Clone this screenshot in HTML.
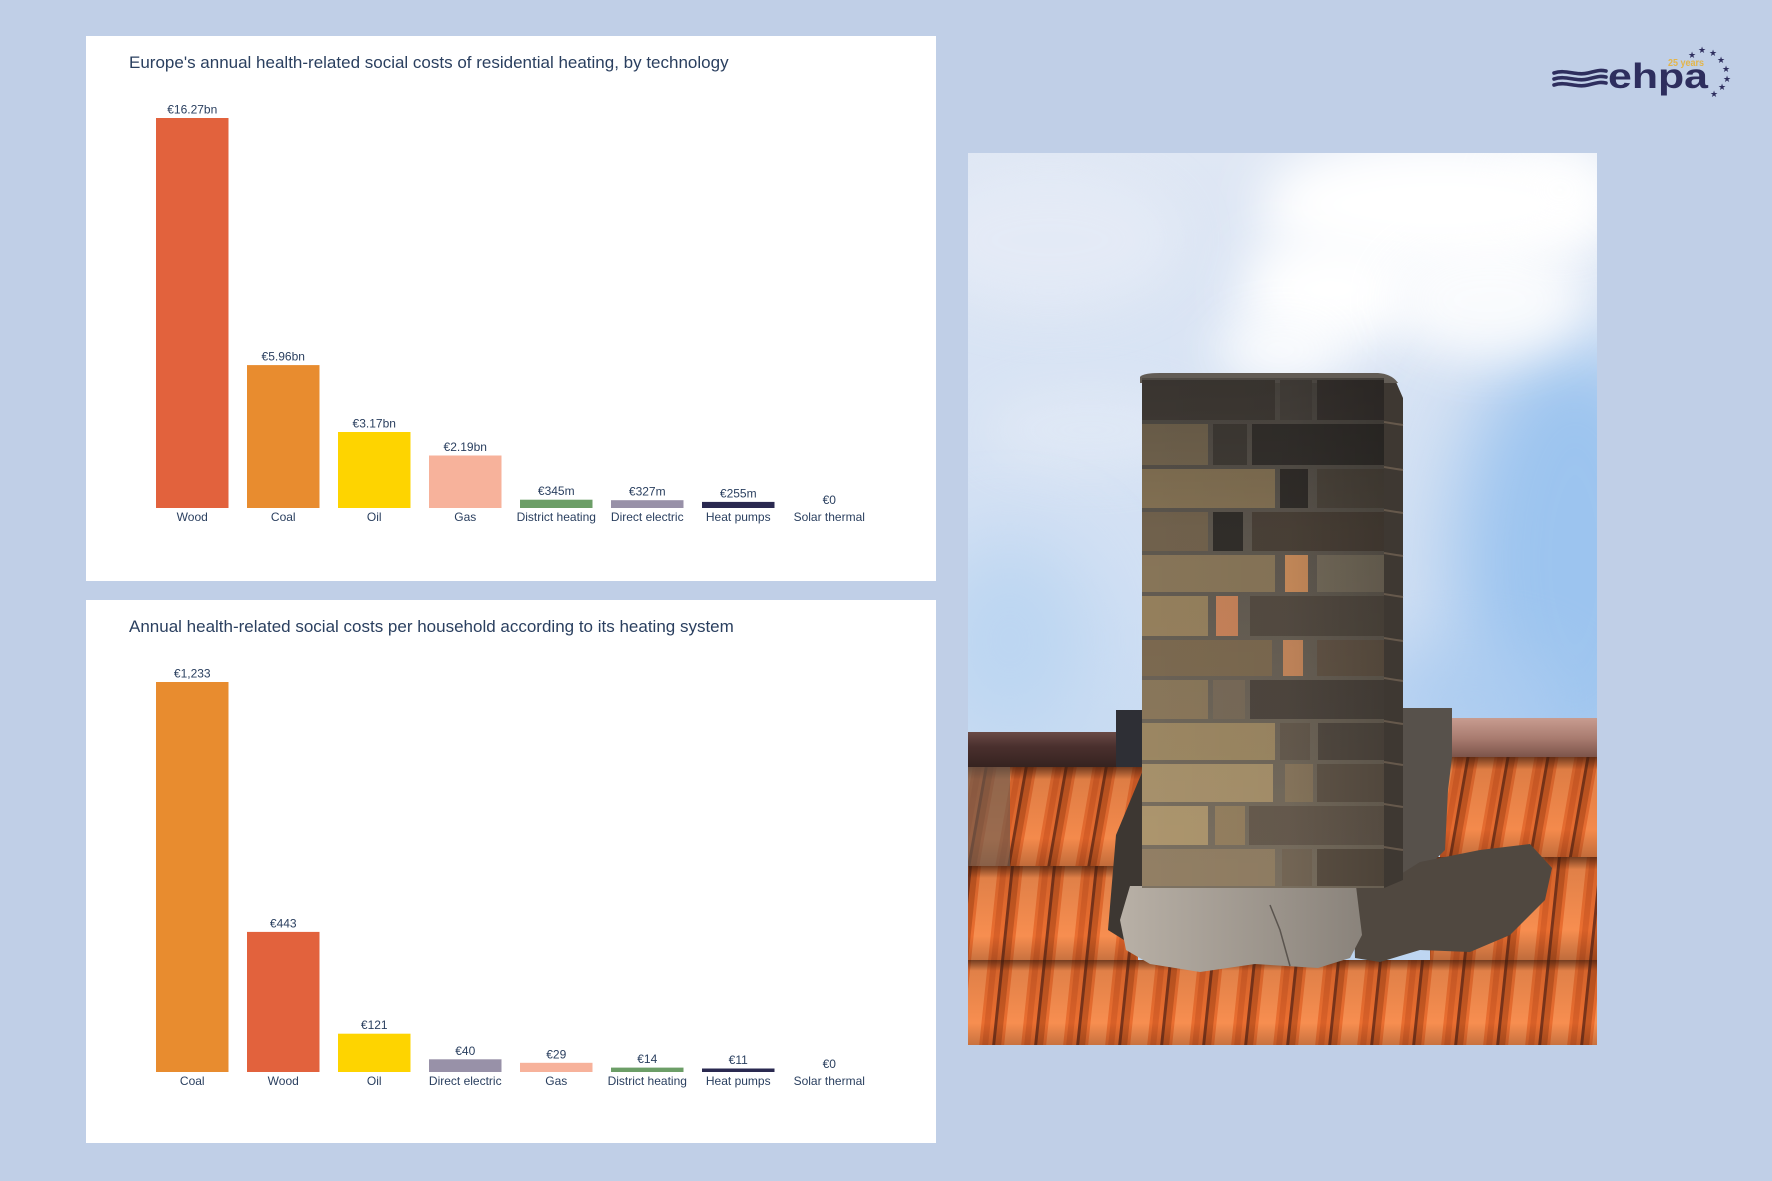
<!DOCTYPE html>
<html>
<head>
<meta charset="utf-8">
<style>
  html,body{margin:0;padding:0;}
  body{width:1772px;height:1181px;background:#c0cfe7;overflow:hidden;position:relative;}
  svg{position:absolute;left:0;top:0;}
  .t{font-family:"Liberation Sans",Arial,sans-serif;fill:#2a3f5f;}
</style>
</head>
<body>
<svg width="1772" height="1181" viewBox="0 0 1772 1181" xmlns="http://www.w3.org/2000/svg">
  <defs>
    <clipPath id="photo"><rect x="968" y="153" width="629" height="892"/></clipPath>
    <linearGradient id="sky" x1="0" y1="0" x2="0" y2="1">
      <stop offset="0" stop-color="#dfe7f4"/>
      <stop offset="0.5" stop-color="#d0dff3"/>
      <stop offset="1" stop-color="#b9d4f1"/>
    </linearGradient>
    <filter id="blur40" x="-60%" y="-60%" width="220%" height="220%"><feGaussianBlur stdDeviation="40"/></filter>
    <filter id="blur25" x="-60%" y="-60%" width="220%" height="220%"><feGaussianBlur stdDeviation="25"/></filter>
    <pattern id="tile" width="40" height="120" patternUnits="userSpaceOnUse" patternTransform="skewX(-10)">
      <rect width="40" height="120" fill="#e66c30"/>
      <rect x="0" width="3" height="120" fill="#7a3418"/>
      <rect x="3" width="6" height="120" fill="#c45722"/>
      <rect x="12" width="16" height="120" fill="#f48a4c"/>
      <rect x="31" width="6" height="120" fill="#d65e27"/>
    </pattern>
    <pattern id="tile2" width="42" height="120" patternUnits="userSpaceOnUse" patternTransform="translate(10 0) skewX(-6)">
      <rect width="42" height="120" fill="#ea6e30"/>
      <rect x="0" width="3" height="120" fill="#7a341a"/>
      <rect x="3" width="6" height="120" fill="#c65822"/>
      <rect x="12" width="17" height="120" fill="#f78e50"/>
      <rect x="32" width="6" height="120" fill="#d86028"/>
    </pattern>
    <linearGradient id="rowShade" x1="0" y1="0" x2="0" y2="1">
      <stop offset="0" stop-color="#3a1a0c" stop-opacity="0.7"/>
      <stop offset="0.12" stop-color="#3a1a0c" stop-opacity="0.12"/>
      <stop offset="0.7" stop-color="#3a1a0c" stop-opacity="0"/>
      <stop offset="1" stop-color="#3a1a0c" stop-opacity="0.3"/>
    </linearGradient>
    <linearGradient id="mortar" x1="0" y1="0" x2="0" y2="1">
      <stop offset="0" stop-color="#55504a"/>
      <stop offset="1" stop-color="#7d7262"/>
    </linearGradient>
    <linearGradient id="faceH" x1="0" y1="0" x2="1" y2="0">
      <stop offset="0" stop-color="#000" stop-opacity="0"/>
      <stop offset="0.6" stop-color="#000" stop-opacity="0.03"/>
      <stop offset="1" stop-color="#000" stop-opacity="0.18"/>
    </linearGradient>
    <linearGradient id="faceV" x1="0" y1="0" x2="0" y2="1">
      <stop offset="0" stop-color="#000" stop-opacity="0.2"/>
      <stop offset="0.3" stop-color="#000" stop-opacity="0.05"/>
      <stop offset="1" stop-color="#000" stop-opacity="0"/>
    </linearGradient>
    <linearGradient id="concrete" x1="0" y1="0" x2="1" y2="0">
      <stop offset="0" stop-color="#b8b0a6"/>
      <stop offset="1" stop-color="#8a837b"/>
    </linearGradient>
    <linearGradient id="gutL" x1="0" y1="0" x2="0" y2="1">
      <stop offset="0" stop-color="#6a4a46"/>
      <stop offset="0.4" stop-color="#4a302e"/>
      <stop offset="1" stop-color="#35221f"/>
    </linearGradient>
    <linearGradient id="gutR" x1="0" y1="0" x2="0" y2="1">
      <stop offset="0" stop-color="#c89c90"/>
      <stop offset="0.5" stop-color="#a97c70"/>
      <stop offset="1" stop-color="#7a5248"/>
    </linearGradient>
  </defs>

  <!-- ============ PANEL 1 ============ -->
  <rect x="86" y="36" width="850" height="545" fill="#ffffff"/>
  <text class="t" x="129" y="68" font-size="17">Europe's annual health-related social costs of residential heating, by technology</text>

  <rect x="156" y="118" width="72.5" height="390" fill="#e2623d"/>
  <rect x="247" y="365.1" width="72.5" height="142.9" fill="#e88c2f"/>
  <rect x="338" y="432" width="72.5" height="76" fill="#fed400"/>
  <rect x="429" y="455.5" width="72.5" height="52.5" fill="#f7b29b"/>
  <rect x="520" y="499.7" width="72.5" height="8.3" fill="#6c9e67"/>
  <rect x="611" y="500.2" width="72.5" height="7.8" fill="#9891a8"/>
  <rect x="702" y="501.9" width="72.5" height="6.1" fill="#2a2950"/>

  <g class="t" font-size="12" text-anchor="middle">
    <text x="192.25" y="113.5">€16.27bn</text>
    <text x="283.25" y="360.6">€5.96bn</text>
    <text x="374.25" y="427.5">€3.17bn</text>
    <text x="465.25" y="451">€2.19bn</text>
    <text x="556.25" y="495.2">€345m</text>
    <text x="647.25" y="495.7">€327m</text>
    <text x="738.25" y="497.4">€255m</text>
    <text x="829.25" y="504">€0</text>

    <text x="192.25" y="521">Wood</text>
    <text x="283.25" y="521">Coal</text>
    <text x="374.25" y="521">Oil</text>
    <text x="465.25" y="521">Gas</text>
    <text x="556.25" y="521">District heating</text>
    <text x="647.25" y="521">Direct electric</text>
    <text x="738.25" y="521">Heat pumps</text>
    <text x="829.25" y="521">Solar thermal</text>
  </g>

  <!-- ============ PANEL 2 ============ -->
  <rect x="86" y="600" width="850" height="543" fill="#ffffff"/>
  <text class="t" x="129" y="632" font-size="17">Annual health-related social costs per household according to its heating system</text>

  <rect x="156" y="682" width="72.5" height="390" fill="#e88c2f"/>
  <rect x="247" y="931.9" width="72.5" height="140.1" fill="#e2623d"/>
  <rect x="338" y="1033.7" width="72.5" height="38.3" fill="#fed400"/>
  <rect x="429" y="1059.3" width="72.5" height="12.7" fill="#9891a8"/>
  <rect x="520" y="1062.8" width="72.5" height="9.2" fill="#f7b29b"/>
  <rect x="611" y="1067.6" width="72.5" height="4.4" fill="#6c9e67"/>
  <rect x="702" y="1068.5" width="72.5" height="3.5" fill="#2a2950"/>

  <g class="t" font-size="12" text-anchor="middle">
    <text x="192.25" y="677.5">€1,233</text>
    <text x="283.25" y="927.4">€443</text>
    <text x="374.25" y="1029.2">€121</text>
    <text x="465.25" y="1054.8">€40</text>
    <text x="556.25" y="1058.3">€29</text>
    <text x="647.25" y="1063.1">€14</text>
    <text x="738.25" y="1064">€11</text>
    <text x="829.25" y="1068">€0</text>

    <text x="192.25" y="1085">Coal</text>
    <text x="283.25" y="1085">Wood</text>
    <text x="374.25" y="1085">Oil</text>
    <text x="465.25" y="1085">Direct electric</text>
    <text x="556.25" y="1085">Gas</text>
    <text x="647.25" y="1085">District heating</text>
    <text x="738.25" y="1085">Heat pumps</text>
    <text x="829.25" y="1085">Solar thermal</text>
  </g>

  <!-- ============ LOGO ============ -->
  <g fill="none" stroke="#2e2e5e" stroke-width="3.6" stroke-linecap="round">
    <path d="M1554,73 C1566,69 1576,76 1588,73 S1601,70 1606,71"/>
    <path d="M1554,79 C1566,75 1576,82 1588,79 S1601,76 1606,77"/>
    <path d="M1554,85 C1566,81 1576,88 1588,85 S1601,82 1606,83"/>
  </g>
  <text x="1608" y="88" font-family="'Liberation Sans',Arial,sans-serif" font-weight="bold" font-size="35" fill="#2e2e5e" textLength="100" lengthAdjust="spacingAndGlyphs">ehpa</text>
  <text x="1668" y="66" font-family="'Liberation Sans',Arial,sans-serif" font-weight="bold" font-size="10" fill="#e3b54a" textLength="36" lengthAdjust="spacingAndGlyphs">25 years</text>
  <g font-family="'DejaVu Sans',sans-serif" font-size="9" fill="#2e2e5e" text-anchor="middle">
    <text x="1692" y="58">★</text>
    <text x="1702" y="53">★</text>
    <text x="1713" y="56">★</text>
    <text x="1721" y="63">★</text>
    <text x="1726" y="72">★</text>
    <text x="1727" y="82">★</text>
    <text x="1722" y="90">★</text>
    <text x="1714" y="97">★</text>
  </g>

  <!-- ============ PHOTO ============ -->
  <g clip-path="url(#photo)">
    <rect x="968" y="153" width="629" height="892" fill="url(#sky)"/>
    <!-- blue patches -->
    <ellipse cx="1575" cy="560" rx="120" ry="220" fill="#9cc4ef" filter="url(#blur40)"/>
    <ellipse cx="1010" cy="640" rx="80" ry="100" fill="#bcd6f2" filter="url(#blur40)"/>
    <ellipse cx="1470" cy="700" rx="110" ry="50" fill="#aacbf0" filter="url(#blur40)"/>
    <!-- faint clouds left -->
    <ellipse cx="1050" cy="240" rx="130" ry="70" fill="#e9eef8" opacity="0.6" filter="url(#blur25)"/>
    <ellipse cx="1090" cy="430" rx="110" ry="40" fill="#eef2f9" opacity="0.4" filter="url(#blur25)"/>
    <!-- smoke -->
    <ellipse cx="1440" cy="205" rx="180" ry="70" fill="#ffffff" filter="url(#blur25)"/>
    <ellipse cx="1330" cy="290" rx="90" ry="60" fill="#ffffff" filter="url(#blur25)"/>
    <ellipse cx="1490" cy="300" rx="100" ry="60" fill="#ffffff" opacity="0.85" filter="url(#blur25)"/>
    <ellipse cx="1280" cy="350" rx="65" ry="32" fill="#ffffff" opacity="0.9" filter="url(#blur25)"/>
    <ellipse cx="1560" cy="190" rx="60" ry="50" fill="#ffffff" opacity="0.7" filter="url(#blur25)"/>

    <!-- gutters & flashing -->
    <rect x="968" y="732" width="150" height="36" fill="url(#gutL)"/>
    <rect x="1450" y="718" width="150" height="40" fill="url(#gutR)"/>
    <rect x="1116" y="710" width="27" height="62" fill="#2e2f35"/>
    <rect x="1402" y="708" width="50" height="50" fill="#8a6058"/>

    <!-- tile rows -->
    <rect x="968" y="767" width="180" height="102" fill="url(#tile)"/>
    <rect x="968" y="767" width="180" height="102" fill="url(#rowShade)"/>
    <rect x="968" y="767" width="42" height="130" fill="#6a5a50" opacity="0.65"/>
    <rect x="1440" y="757" width="160" height="104" fill="url(#tile)"/>
    <rect x="1440" y="757" width="160" height="104" fill="url(#rowShade)"/>
    <rect x="968" y="866" width="170" height="100" fill="url(#tile2)"/>
    <rect x="968" y="866" width="170" height="100" fill="url(#rowShade)"/>
    <rect x="1430" y="857" width="170" height="104" fill="url(#tile2)"/>
    <rect x="1430" y="857" width="170" height="104" fill="url(#rowShade)"/>
    <rect x="968" y="960" width="629" height="90" fill="url(#tile2)"/>
    <rect x="968" y="960" width="629" height="90" fill="url(#rowShade)"/>

    <!-- dark concrete right of chimney -->
    <polygon points="1388,708 1452,708 1452,757 1448,790 1445,850 1415,880 1400,900 1384,890" fill="#57514b"/>
    <polygon points="1353,888 1385,884 1420,862 1480,850 1530,844 1552,868 1545,900 1510,935 1470,952 1420,950 1380,962 1355,958" fill="#504840"/>
    <!-- left dark sliver -->
    <polygon points="1116,835 1143,770 1143,890 1132,945 1108,930" fill="#3d3732"/>
    <!-- light concrete below chimney -->
    <polygon points="1130,886 1356,886 1362,935 1350,958 1318,968 1255,964 1200,972 1150,964 1126,950 1120,920" fill="url(#concrete)"/>
    <path d="M1270,905 L1280,930 L1290,966" stroke="#5a544e" stroke-width="1.5" fill="none"/>

    <!-- chimney mortar/front face -->
    <rect x="1142" y="378" width="242" height="510" fill="url(#mortar)"/>
    <!-- side face -->
    <polygon points="1384,380 1396,382 1403,398 1403,880 1384,888" fill="#3e3832"/>
    <g stroke="#66594c" stroke-width="2">
      <line x1="1384" y1="422" x2="1403" y2="425"/>
      <line x1="1384" y1="467" x2="1403" y2="470"/>
      <line x1="1384" y1="510" x2="1403" y2="513"/>
      <line x1="1384" y1="553" x2="1403" y2="556"/>
      <line x1="1384" y1="594" x2="1403" y2="597"/>
      <line x1="1384" y1="638" x2="1403" y2="641"/>
      <line x1="1384" y1="678" x2="1403" y2="681"/>
      <line x1="1384" y1="721" x2="1403" y2="724"/>
      <line x1="1384" y1="762" x2="1403" y2="765"/>
      <line x1="1384" y1="804" x2="1403" y2="807"/>
      <line x1="1384" y1="847" x2="1403" y2="850"/>
    </g>
    <!-- cap -->
    <path d="M1140,383 L1140,377 Q1143,373 1160,373 L1378,373 Q1392,374 1398,383 Z" fill="#625c55"/>

    <!-- bricks -->
    <g>
      <!-- c1 380-420 -->
      <rect x="1142" y="380" width="133" height="40" fill="#47413b"/>
      <rect x="1280" y="380" width="32" height="40" fill="#4f4943"/>
      <rect x="1317" y="380" width="67" height="40" fill="#403a36"/>
      <!-- c2 424-465 -->
      <rect x="1142" y="424" width="66" height="41" fill="#7a6b54"/>
      <rect x="1213" y="424" width="34" height="41" fill="#45403a"/>
      <rect x="1252" y="424" width="132" height="41" fill="#383430"/>
      <!-- c3 469-508 -->
      <rect x="1142" y="469" width="133" height="39" fill="#8a7758"/>
      <rect x="1280" y="469" width="28" height="39" fill="#34302c"/>
      <rect x="1317" y="469" width="67" height="39" fill="#524a40"/>
      <!-- c4 512-551 -->
      <rect x="1142" y="512" width="66" height="39" fill="#766650"/>
      <rect x="1213" y="512" width="30" height="39" fill="#33302c"/>
      <rect x="1252" y="512" width="132" height="39" fill="#4e443a"/>
      <!-- c5 555-592 -->
      <rect x="1142" y="555" width="133" height="37" fill="#8d7a5c"/>
      <rect x="1285" y="555" width="23" height="37" fill="#cf905e"/>
      <rect x="1317" y="555" width="67" height="37" fill="#7a705f"/>
      <!-- c6 596-636 -->
      <rect x="1142" y="596" width="66" height="40" fill="#9a8460"/>
      <rect x="1216" y="596" width="22" height="40" fill="#cc865c"/>
      <rect x="1250" y="596" width="134" height="40" fill="#574e44"/>
      <!-- c7 640-676 -->
      <rect x="1142" y="640" width="130" height="36" fill="#7f6c52"/>
      <rect x="1283" y="640" width="20" height="36" fill="#c98a5e"/>
      <rect x="1317" y="640" width="67" height="36" fill="#675849"/>
      <!-- c8 680-719 -->
      <rect x="1142" y="680" width="66" height="39" fill="#8c795c"/>
      <rect x="1213" y="680" width="32" height="39" fill="#7a6c5a"/>
      <rect x="1250" y="680" width="134" height="39" fill="#504840"/>
      <!-- c9 723-760 -->
      <rect x="1142" y="723" width="133" height="37" fill="#9e8964"/>
      <rect x="1280" y="723" width="30" height="37" fill="#675c4f"/>
      <rect x="1318" y="723" width="66" height="37" fill="#564d44"/>
      <!-- c10 764-802 -->
      <rect x="1142" y="764" width="131" height="38" fill="#a8926c"/>
      <rect x="1285" y="764" width="28" height="38" fill="#8a785e"/>
      <rect x="1317" y="764" width="67" height="38" fill="#64584b"/>
      <!-- c11 806-845 -->
      <rect x="1142" y="806" width="66" height="39" fill="#ad966e"/>
      <rect x="1215" y="806" width="30" height="39" fill="#958060"/>
      <rect x="1249" y="806" width="135" height="39" fill="#685c4f"/>
      <!-- c12 849-886 -->
      <rect x="1142" y="849" width="133" height="37" fill="#927f64"/>
      <rect x="1282" y="849" width="30" height="37" fill="#766857"/>
      <rect x="1317" y="849" width="67" height="37" fill="#5e5245"/>
    </g>
    <!-- shading overlays -->
    <rect x="1142" y="378" width="242" height="510" fill="url(#faceH)"/>
    <rect x="1142" y="378" width="242" height="510" fill="url(#faceV)"/>
  </g>
</svg>
</body>
</html>
